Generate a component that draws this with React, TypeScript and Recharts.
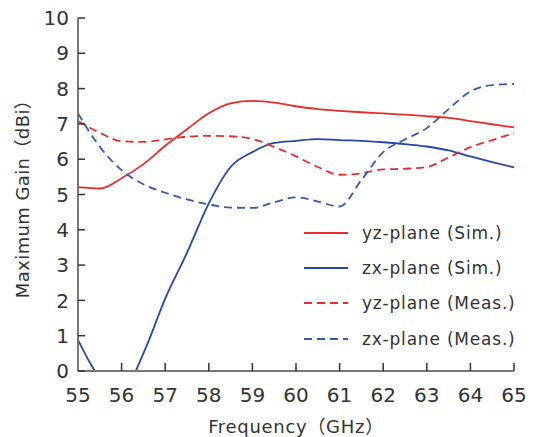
import { LineChart, Line, XAxis, YAxis } from "recharts";

// frequency grid (GHz)
const freqs = [55, 55.5, 56, 56.5, 57, 57.5, 58, 58.5, 59, 59.5, 60, 60.5, 61, 61.5, 62, 62.5, 63, 63.5, 64, 64.5, 65];

// maximum gain (dBi)
const yzSim = [5.21, 5.17, 5.46, 5.86, 6.38, 6.85, 7.3, 7.58, 7.65, 7.6, 7.5, 7.42, 7.37, 7.33, 7.3, 7.26, 7.22, 7.17, 7.08, 6.99, 6.9];
const zxSim = [0.88, -0.2, -0.6, 0.5, 2.05, 3.35, 4.75, 5.78, 6.2, 6.46, 6.52, 6.57, 6.54, 6.52, 6.48, 6.43, 6.36, 6.25, 6.08, 5.92, 5.77];
const yzMeas = [7.08, 6.75, 6.51, 6.49, 6.56, 6.64, 6.66, 6.65, 6.57, 6.35, 6.08, 5.78, 5.56, 5.6, 5.71, 5.73, 5.78, 6.05, 6.34, 6.54, 6.74];
const zxMeas = [7.3, 6.35, 5.69, 5.29, 5.05, 4.86, 4.72, 4.63, 4.62, 4.78, 4.92, 4.8, 4.66, 5.41, 6.2, 6.56, 6.88, 7.42, 7.92, 8.1, 8.13];

const xTicks = [55, 56, 57, 58, 59, 60, 61, 62, 63, 64, 65];
const yTicks = [0, 1, 2, 3, 4, 5, 6, 7, 8, 9, 10];

const FONT = "'DejaVu Sans', 'Noto Sans CJK JP', sans-serif";
const TEXT = "#333";
const RED = "#ea2b2b";
const BLUE = "#2548a0";
const BLUE_DASH = "#3559ae";

const series = [
  { key: "yzSim", name: "yz-plane (Sim.)", color: RED, dash: undefined as string | undefined },
  { key: "zxSim", name: "zx-plane (Sim.)", color: BLUE, dash: undefined },
  { key: "yzMeas", name: "yz-plane (Meas.)", color: RED, dash: "8 5" },
  { key: "zxMeas", name: "zx-plane (Meas.)", color: BLUE_DASH, dash: "8 5" },
];

const data = freqs.map((f, i) => ({
  f,
  yzSim: yzSim[i],
  zxSim: zxSim[i],
  yzMeas: yzMeas[i],
  zxMeas: zxMeas[i],
}));

// legend sits inside the plot, lower right
function LegendBox() {
  return (
    <div style={{ position: "absolute", left: 304, top: 215, fontFamily: FONT, fontSize: 17, letterSpacing: 0.8, color: TEXT }}>
      {series.map((s) => (
        <div key={s.key} style={{ display: "flex", alignItems: "center", height: 35.3, whiteSpace: "nowrap" }}>
          <svg width={44} height={4} style={{ marginRight: 14 }}>
            <line x1={0} y1={2} x2={44} y2={2} stroke={s.color} strokeWidth={1.8} strokeDasharray={s.dash} />
          </svg>
          <span>{s.name}</span>
        </div>
      ))}
    </div>
  );
}

export default function App() {
  return (
    <div style={{ position: "absolute", left: 0, top: 0, width: 534, height: 437, background: "#fff", fontFamily: FONT }}>
      <LineChart width={534} height={437} data={data} margin={{ top: 18, right: 20, left: 0, bottom: 0 }}>
        <XAxis
          dataKey="f"
          type="number"
          domain={[55, 65]}
          ticks={xTicks}
          interval={0}
          height={66}
          tickSize={-8}
          tickMargin={25}
          axisLine={{ stroke: "#777", strokeWidth: 2 }}
          tickLine={{ stroke: "#333", strokeWidth: 1.5 }}
          tick={{ fill: TEXT, fontSize: 20, fontFamily: FONT }}
          label={(props: any) => {
            const vb = props.viewBox;
            return (
              <text x={vb.x + vb.width / 2} y={vb.y + 62} textAnchor="middle" fill={TEXT} fontSize={18} letterSpacing={0.7} fontFamily={FONT}>
                Frequency（GHz）
              </text>
            );
          }}
        />
        <YAxis
          type="number"
          domain={[0, 10]}
          ticks={yTicks}
          interval={0}
          allowDataOverflow
          width={78}
          tickSize={-7}
          tickMargin={16}
          axisLine={{ stroke: "#777", strokeWidth: 2 }}
          tickLine={{ stroke: "#333", strokeWidth: 1.5 }}
          tick={{ fill: TEXT, fontSize: 20, fontFamily: FONT }}
          label={(props: any) => {
            const vb = props.viewBox;
            const cx = vb.x + 22;
            const cy = vb.y + vb.height / 2;
            return (
              <text x={cx} y={cy} transform={`rotate(-90 ${cx} ${cy})`} textAnchor="middle" dominantBaseline="central" fill={TEXT} fontSize={18} letterSpacing={0.4} fontFamily={FONT}>
                Maximum Gain（dBi）
              </text>
            );
          }}
        />
        {series.map((s) => (
          <Line
            key={s.key}
            dataKey={s.key}
            name={s.name}
            type="monotone"
            stroke={s.color}
            strokeWidth={1.8}
            strokeDasharray={s.dash}
            dot={false}
            activeDot={false}
            isAnimationActive={false}
          />
        ))}
      </LineChart>
      <LegendBox />
    </div>
  );
}
